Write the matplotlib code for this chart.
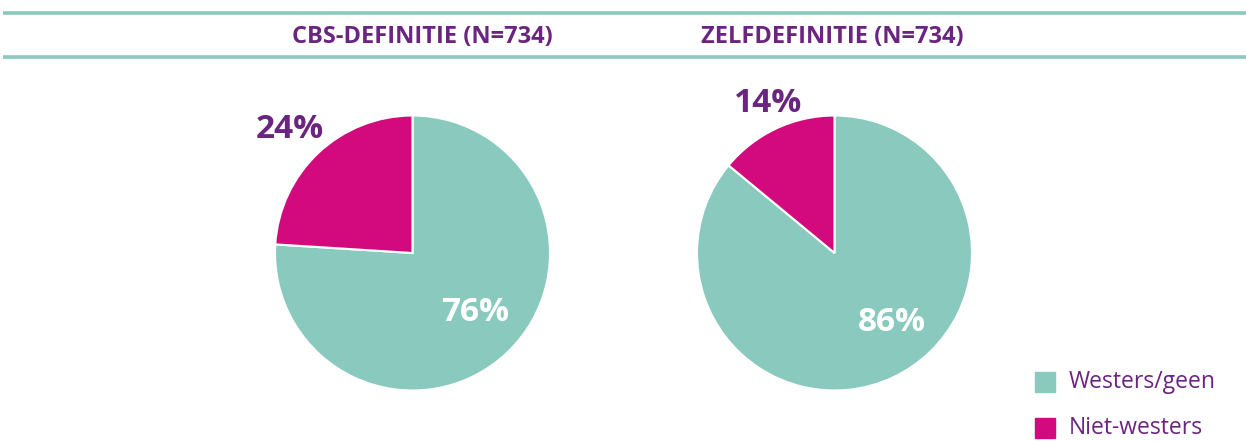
import matplotlib.pyplot as plt
from matplotlib.patches import Rectangle

# --- data ---
categories = ["Westers/geen", "Niet-westers"]
titles = ["CBS-DEFINITIE (N=734)", "ZELFDEFINITIE (N=734)"]
cbs_values = [76, 24]
zelf_values = [86, 14]

TEAL = "#8ACABE"
MAGENTA = "#D20A7E"
PURPLE = "#6B2480"
colors = [TEAL, MAGENTA]

W, H = 1246, 441
fig = plt.figure(figsize=(W / 100, H / 100), dpi=100)
plt.rcParams["font.family"] = ["Open Sans", "DejaVu Sans"]

# background axes in pixel coords for rules, titles, legend
bg = fig.add_axes([0, 0, 1, 1])
bg.set_xlim(0, W)
bg.set_ylim(H, 0)
bg.axis("off")
bg.plot([3, W], [13, 13], color=TEAL, lw=2.6, solid_capstyle="butt")
bg.plot([3, W], [57, 57], color=TEAL, lw=2.6, solid_capstyle="butt")

title_x = [422, 832]
for tx, t in zip(title_x, titles):
    bg.text(tx, 37, t, ha="center", va="center", color=PURPLE,
            fontsize=17, fontweight="bold")

# legend
for i, (lab, c) in enumerate(zip(categories, colors)):
    y = 382 + i * 46
    bg.add_patch(Rectangle((1035, y - 10), 20, 20, color=c))
    bg.text(1069, y, lab, ha="left", va="center", color=PURPLE, fontsize=16.5)

# pies
radius_px = 137.5
centers = [(412.5, 253), (834.5, 253)]
datasets = [cbs_values, zelf_values]
# label positions in units of the pie radius: (large share, small share)
label_pos = [[(0.455, -0.436), (-0.89, 0.895)],
             [(0.418, -0.509), (-0.484, 1.084)]]

for (cx, cy), vals, lp in zip(centers, datasets, label_pos):
    ax = fig.add_axes([(cx - radius_px) / W, (H - cy - radius_px) / H,
                       2 * radius_px / W, 2 * radius_px / H])
    ax.pie(vals, colors=colors, startangle=90, counterclock=False,
           wedgeprops=dict(edgecolor="white", linewidth=1.5))
    ax.set_xlim(-1, 1)
    ax.set_ylim(-1, 1)
    ax.set_aspect("auto")
    ax.text(lp[0][0], lp[0][1], f"{vals[0]}%", ha="center", va="center",
            color="white", fontsize=24, fontweight="bold")
    ax.text(lp[1][0], lp[1][1], f"{vals[1]}%", ha="center", va="center",
            color=PURPLE, fontsize=24, fontweight="bold", clip_on=False)

fig.savefig("out.png", dpi=100)
